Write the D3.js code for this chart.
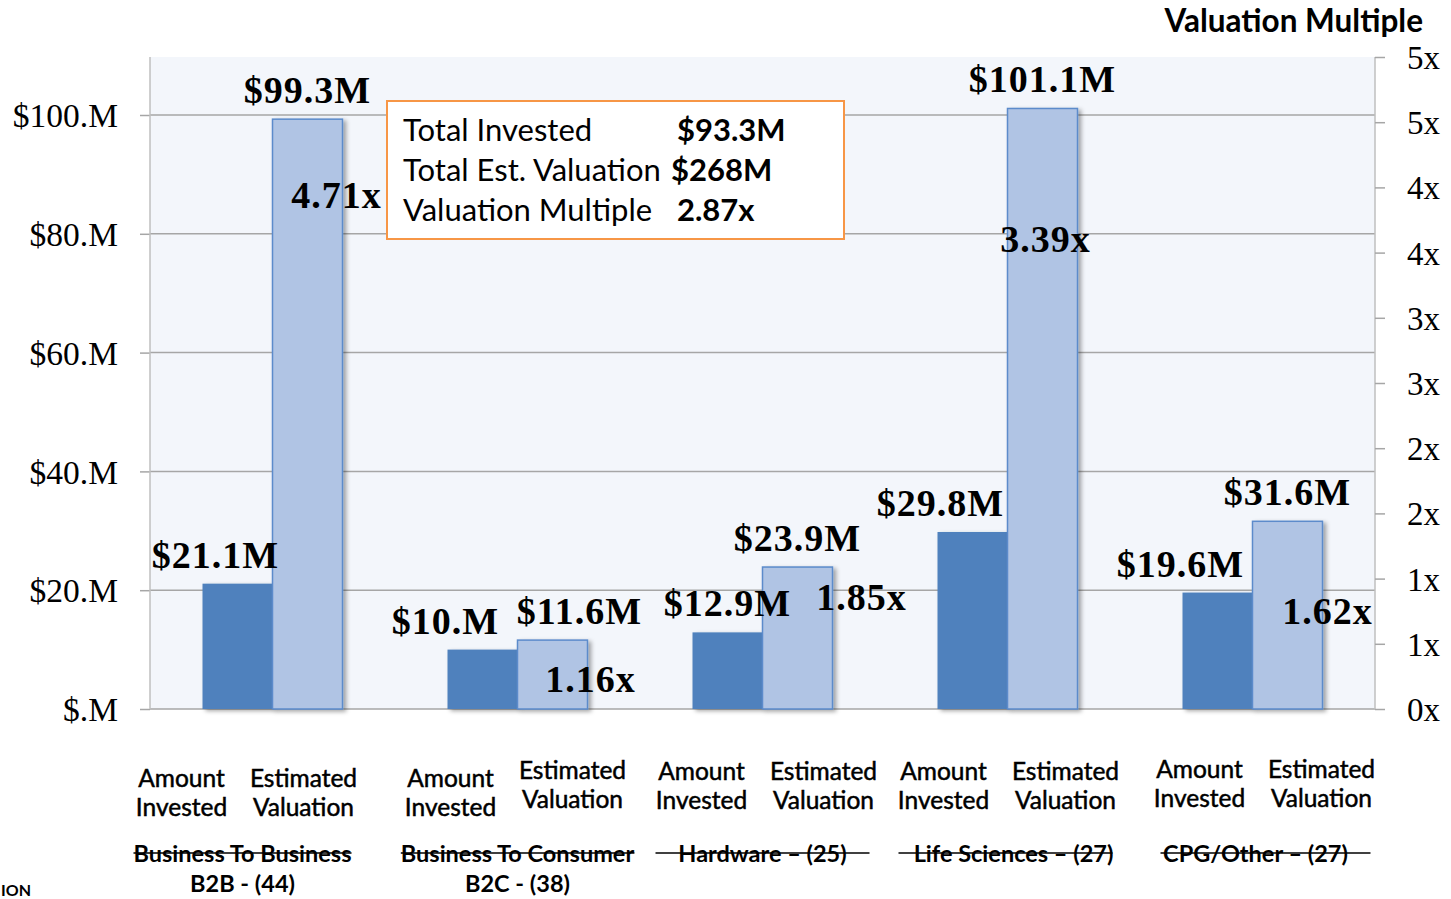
<!DOCTYPE html>
<html><head><meta charset="utf-8">
<script src="https://cdn.jsdelivr.net/npm/d3@7"></script>
<style>body{margin:0;background:#fff;overflow:hidden}svg{display:block}</style>
</head><body>
<script>
// ---------------- DATA ----------------
const categories = ["B2B", "B2C", "Hardware", "Life Sciences", "CPG/Other"];
const groupLine1 = ["Business To Business", "Business To Consumer", "Hardware – (25)", "Life Sciences – (27)", "CPG/Other – (27)"];
const groupLine2 = ["B2B - (44)", "B2C - (38)", "", "", ""];
const seriesNames = [["Amount", "Invested"], ["Estimated", "Valuation"]];
const invested = [21.1, 10.0, 12.9, 29.8, 19.6];
const valuation = [99.3, 11.6, 23.9, 101.1, 31.6];
const multiples = [4.71, 1.16, 1.85, 3.39, 1.62];
const investedLabels = ["$21.1M", "$10.M", "$12.9M", "$29.8M", "$19.6M"];
const valuationLabels = ["$99.3M", "$11.6M", "$23.9M", "$101.1M", "$31.6M"];
const leftTicks = [0, 20, 40, 60, 80, 100];
const leftTickLabels = ["$.M", "$20.M", "$40.M", "$60.M", "$80.M", "$100.M"];
const rightTicks = [0, 0.5, 1, 1.5, 2, 2.5, 3, 3.5, 4, 4.5, 5];
const rightTickLabels = ["0x", "1x", "1x", "2x", "2x", "3x", "3x", "4x", "4x", "5x", "5x"];
const summaryLabels = ["Total Invested", "Total Est. Valuation", "Valuation Multiple"];
const summaryValues = ["$93.3M", "$268M", "2.87x"];
const rightTitle = "Valuation Multiple";

// ---------------- LAYOUT (label nudges, px) ----------------
const invLabelDx = [-22, -37, 0, -32, -37];
const valLabelDx = [0, 27, 0, 0, 0];
const multLabelDx = [29, 38, 64, 3, 40];
const multLabelY = [208, 692, 610, 252, 624];
const pairDx = [-30, -6, 0, -3, 8];
const pairY = [787, 787, 780, 780, 778];
const pairYVal = [787, 779, 780, 780, 778];
const groupDx = [-30, 0, 0, 6, 3];
const strikeHalf = [0, 0, 107, 107, 105];
const strikeDx = [0, 0, 0, -2, 13];

const W = 1451, H = 899;
const svg = d3.select("body").append("svg").attr("width", W).attr("height", H)
  .style("font-family", "Lato, 'Open Sans', sans-serif");

const defs = svg.append("defs");
const f = defs.append("filter").attr("id", "sh").attr("x", "-20%").attr("y", "-10%").attr("width", "150%").attr("height", "130%");
f.append("feDropShadow").attr("dx", 3).attr("dy", 2).attr("stdDeviation", 2).attr("flood-color", "#000").attr("flood-opacity", 0.35);

const plotL = 150, plotR = 1375;
const y = d3.scaleLinear().domain([0, 100]).range([709, 115]);
const y2 = d3.scaleLinear().domain([0, 5]).range([709, 57]);
const x0 = d3.scaleBand().domain(categories).range([plotL, plotR]).paddingInner(0.4286).paddingOuter(0.2143);
const x1 = d3.scaleBand().domain([0, 1]).range([0, x0.bandwidth()]);
const plotT = y2(5);

// plot background
svg.append("rect").attr("x", plotL).attr("y", plotT).attr("width", plotR - plotL).attr("height", y(0) - plotT).attr("fill", "#F3F6FB");

// gridlines + left axis
const gl = svg.append("g").attr("transform", `translate(${plotL},0)`)
  .call(d3.axisLeft(y).tickValues(leftTicks).tickSize(10).tickPadding(22).tickFormat((d, i) => leftTickLabels[i]));
gl.select(".domain").remove();
gl.selectAll("line").attr("stroke", "#A6A6A6").attr("stroke-width", 1.5);
gl.selectAll("text").attr("font-family", "'Liberation Serif', serif").attr("font-size", 33.5).attr("fill", "#000").attr("dy", "0.35em");
svg.append("g").selectAll("line").data(leftTicks).join("line")
  .attr("x1", plotL).attr("x2", plotR).attr("y1", d => y(d)).attr("y2", d => y(d))
  .attr("stroke", "#A6A6A6").attr("stroke-width", 1.5);
svg.append("line").attr("x1", plotL).attr("x2", plotL).attr("y1", plotT).attr("y2", y(0)).attr("stroke", "#BFBFBF").attr("stroke-width", 1.5);

// right axis
const gr = svg.append("g").attr("transform", `translate(${plotR},0)`)
  .call(d3.axisRight(y2).tickValues(rightTicks).tickSize(10).tickPadding(22).tickFormat((d, i) => rightTickLabels[i]));
gr.select(".domain").attr("stroke", "#BFBFBF").attr("stroke-width", 1.5).attr("d", `M0,${plotT}V${y2(0)}`);
gr.selectAll("line").attr("stroke", "#A6A6A6").attr("stroke-width", 1.5);
gr.selectAll("text").attr("font-family", "'Liberation Serif', serif").attr("font-size", 33).attr("fill", "#000").attr("dy", "0.35em");

svg.append("text").attr("x", 1423).attr("y", 32).attr("text-anchor", "end")
  .attr("font-weight", "bold").attr("font-size", 31.5).attr("fill", "#000").text(rightTitle);

// bars
const groups = svg.append("g").selectAll("g").data(categories).join("g")
  .attr("transform", d => `translate(${x0(d)},0)`);
groups.append("rect").attr("x", x1(0)).attr("width", x1.bandwidth())
  .attr("y", (d, i) => y(invested[i])).attr("height", (d, i) => y(0) - y(invested[i]))
  .attr("fill", "#4F81BD").attr("filter", "url(#sh)");
groups.append("rect").attr("x", x1(1)).attr("width", x1.bandwidth())
  .attr("y", (d, i) => y(valuation[i])).attr("height", (d, i) => y(0) - y(valuation[i]))
  .attr("fill", "#B0C4E4").attr("stroke", "#5B8BCB").attr("stroke-width", 1.5).attr("filter", "url(#sh)");

// value labels
const serifBold = sel => sel.attr("font-family", "'Liberation Serif', serif").attr("font-weight", "bold")
  .attr("font-size", 38).attr("letter-spacing", 1).attr("fill", "#000");
svg.append("g").selectAll("text").data(categories).join("text")
  .attr("x", (d, i) => x0(d) + x1(0) + x1.bandwidth() / 2 + invLabelDx[i])
  .attr("y", (d, i) => y(invested[i]) - 16).attr("text-anchor", "middle")
  .call(serifBold).text((d, i) => investedLabels[i]);
svg.append("g").selectAll("text").data(categories).join("text")
  .attr("x", (d, i) => x0(d) + x1(1) + x1.bandwidth() / 2 + valLabelDx[i])
  .attr("y", (d, i) => y(valuation[i]) - 16).attr("text-anchor", "middle")
  .call(serifBold).text((d, i) => valuationLabels[i]);
svg.append("g").selectAll("text").data(categories).join("text")
  .attr("x", (d, i) => x0(d) + x1(1) + x1.bandwidth() / 2 + multLabelDx[i])
  .attr("y", (d, i) => multLabelY[i]).attr("text-anchor", "middle")
  .call(serifBold).text((d, i) => multiples[i].toFixed(2) + "x");

// summary box
svg.append("rect").attr("x", 387).attr("y", 101).attr("width", 457).attr("height", 138)
  .attr("fill", "#fff").attr("stroke", "#F79646").attr("stroke-width", 2);
const sx = [677, 671, 677];
summaryLabels.forEach((s, i) => {
  svg.append("text").attr("x", 403).attr("y", 141 + i * 40).attr("font-size", 31).attr("fill", "#000").text(s);
  svg.append("text").attr("x", sx[i]).attr("y", 141 + i * 40).attr("font-size", 31).attr("font-weight", "bold").attr("fill", "#000").text(summaryValues[i]);
});

// category labels
const cat = svg.append("g").attr("font-size", 24.5).attr("fill", "#000").attr("text-anchor", "middle");
categories.forEach((c, i) => {
  const mid = x0(c) + x0.bandwidth() / 2;
  const cx = mid + pairDx[i];
  seriesNames.forEach((lines, s) => {
    const yy = s === 0 ? pairY[i] : pairYVal[i];
    lines.forEach((ln, k) => {
      cat.append("text").attr("x", cx + (s === 0 ? -61 : 61)).attr("y", yy + k * 29)
        .attr("stroke", "#000").attr("stroke-width", 0.5).text(ln);
    });
  });
  const gcx = mid + groupDx[i];
  const t = cat.append("text").attr("x", gcx).attr("y", 862).attr("font-weight", "bold").attr("font-size", 23.5).text(groupLine1[i]);
  if (groupLine2[i]) cat.append("text").attr("x", gcx).attr("y", 892).attr("font-weight", "bold").attr("font-size", 23.5).text(groupLine2[i]);
  const bb = t.node().getBBox();
  const lx1 = strikeHalf[i] ? mid + strikeDx[i] - strikeHalf[i] : bb.x;
  const lx2 = strikeHalf[i] ? mid + strikeDx[i] + strikeHalf[i] : bb.x + bb.width;
  cat.append("line").attr("x1", lx1).attr("x2", lx2).attr("y1", 853).attr("y2", 853).attr("stroke", "#000").attr("stroke-width", 1.5);
});

svg.append("text").attr("x", 1).attr("y", 896).attr("font-size", 16).attr("font-weight", "bold").attr("fill", "#000").text("ION");
</script>
</body></html>
